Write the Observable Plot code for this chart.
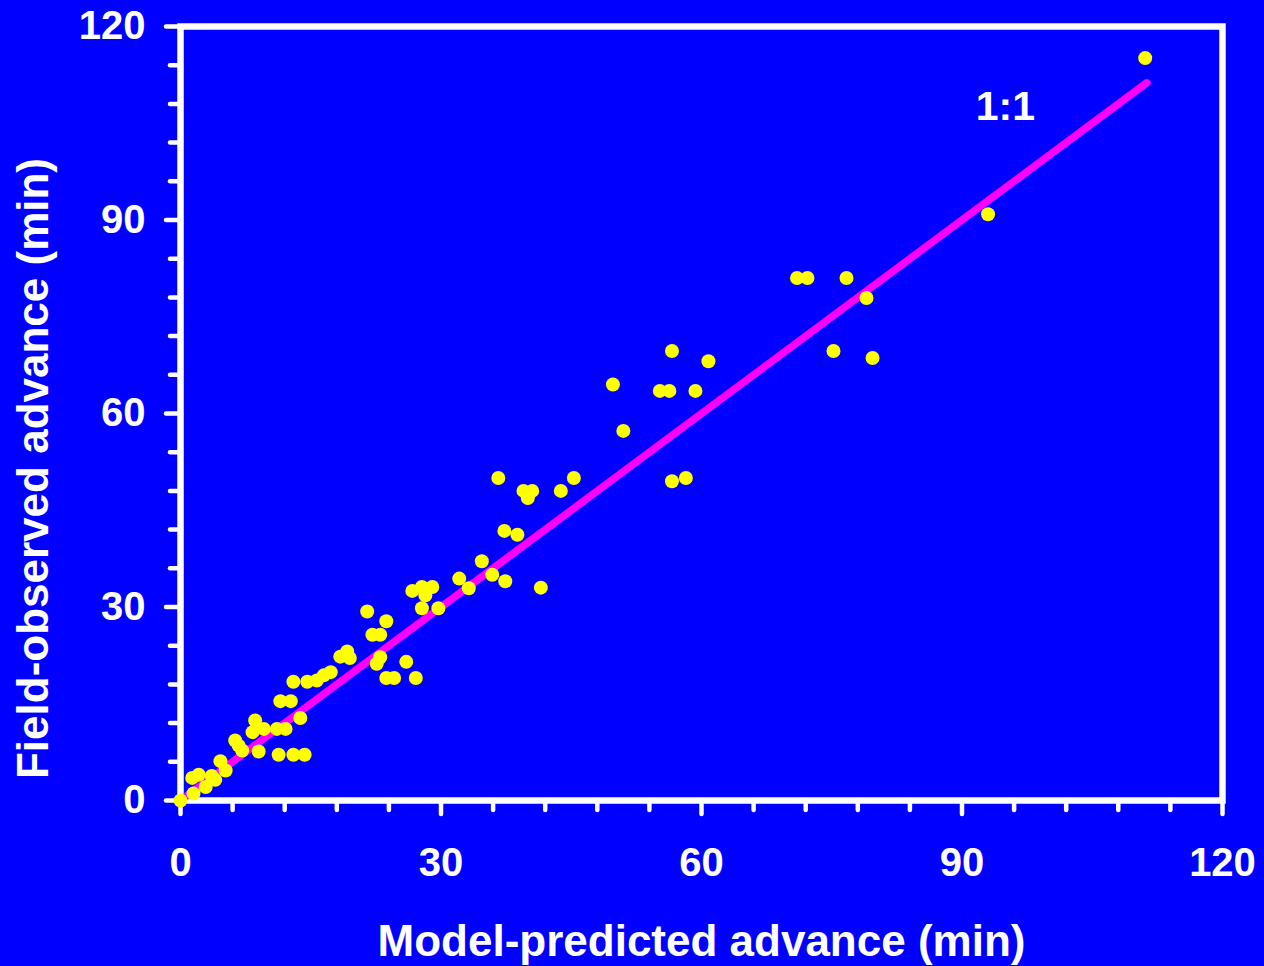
<!DOCTYPE html>
<html><head><meta charset="utf-8">
<script src="https://cdn.jsdelivr.net/npm/d3@7"></script>
<script src="https://cdn.jsdelivr.net/npm/@observablehq/plot@0.6"></script>
<style>html,body{margin:0;padding:0;background:#0000ff;overflow:hidden}</style>
</head><body><div id="chart"></div><script>
// Model-predicted advance (min)
const predicted = [0, 1.5, 1.35, 2.1, 2.9, 3.6, 4.0, 4.6, 5.2, 6.3, 6.7, 7.1, 8.3, 8.6, 9.6, 9.0,
  11.1, 12.1, 11.3, 13.0, 14.3, 13.8, 11.5, 12.7, 13.0, 14.6, 15.7, 16.5, 17.3, 18.4, 19.2, 19.5,
  21.5, 22.1, 23.0, 23.7, 22.6, 23.0, 23.7, 24.6, 26.0, 27.1, 26.7, 27.8, 29.0, 28.2, 27.8, 29.7,
  32.1, 33.2, 34.7, 35.9, 37.4, 41.5, 37.3, 38.8, 36.6, 39.5, 40.5, 40.0, 43.8, 45.3, 56.6, 58.2,
  49.8, 51.0, 55.2, 56.3, 56.6, 59.3, 60.8, 71.0, 72.2, 76.7, 79.0, 75.2, 79.7, 93.0, 111.1];
// Field-observed advance (min)
const observed = [0, 1.1, 3.5, 4.0, 2.1, 3.8, 3.2, 6.1, 4.65, 9.3, 8.5, 7.75, 10.6, 12.4, 11.1, 7.6,
  11.1, 11.1, 7.1, 7.1, 7.1, 12.8, 15.4, 15.4, 18.4, 18.4, 18.6, 19.4, 19.9, 22.3, 23.1, 22.1,
  29.3, 25.7, 25.7, 27.8, 21.2, 22.2, 19.0, 19.0, 21.5, 19.0, 32.5, 33.1, 33.1, 31.8, 29.8, 29.8,
  34.4, 32.9, 37.1, 35.0, 34.0, 33.0, 41.8, 41.2, 50.0, 48.0, 48.0, 46.9, 48.0, 50.0, 49.5, 50.0,
  64.5, 57.3, 63.5, 63.5, 69.7, 63.5, 68.1, 81.0, 81.0, 81.0, 77.9, 69.7, 68.6, 90.9, 115.1];
// 1:1 line
const lineX = [0, 111.3];
const lineY = [0, 111.3];
const lineLabel = [{x: 95, y: 107.5, text: "1:1"}];
// ticks
const majorTicks = [0, 30, 60, 90, 120];
const minorTicks = [6, 12, 18, 24, 36, 42, 48, 54, 66, 72, 78, 84, 96, 102, 108, 114];
const xTitle = ["Model-predicted advance (min)"];
const yTitle = ["Field-observed advance (min)"];

const points = predicted.map((p, i) => ({p, o: observed[i]}));
const line = lineX.map((x, i) => ({x, y: lineY[i]}));

const common = {stroke: "white", strokeWidth: 4.5, strokeLinecap: "round", label: null};
const chart = Plot.plot({
  width: 1264, height: 966,
  marginLeft: 180, marginRight: 42, marginTop: 26, marginBottom: 166,
  x: {domain: [0, 120]},
  y: {domain: [0, 120]},
  style: {background: "#0000ff", color: "white", fontFamily: "'Liberation Sans', Arial, sans-serif", fontWeight: "bold", overflow: "visible"},
  marks: [
    Plot.axisX(minorTicks, {...common, tickSize: 10, tickFormat: () => ""}),
    Plot.axisX(majorTicks, {...common, tickSize: 14, tickPadding: 33, fontSize: 40, fontWeight: "bold", fill: "white"}),
    Plot.axisY(minorTicks, {...common, tickSize: 10, tickFormat: () => ""}),
    Plot.axisY(majorTicks, {...common, tickSize: 14, tickPadding: 21, fontSize: 40, fontWeight: "bold", fill: "white"}),
    Plot.frame({stroke: "white", strokeWidth: 6.5}),
    Plot.line(line, {x: "x", y: "y", stroke: "#ff00ff", strokeWidth: 7.5, strokeLinecap: "round"}),
    Plot.dot(points, {x: "p", y: "o", r: 7, fill: "#ffff00", stroke: null}),
    Plot.text(lineLabel, {x: "x", y: "y", text: "text", fontSize: 41, fontWeight: "bold", fill: "white"}),
    Plot.text(xTitle, {text: d => d, frameAnchor: "bottom", dy: 155, lineAnchor: "bottom", fontSize: 44, fontWeight: "bold", fill: "white"}),
    Plot.text(yTitle, {text: d => d, frameAnchor: "left", textAnchor: "middle", rotate: -90, dx: -133, dy: 55, lineAnchor: "bottom", fontSize: 44, fontWeight: "bold", fill: "white"})
  ]
});
document.getElementById("chart").appendChild(chart);
</script></body></html>
